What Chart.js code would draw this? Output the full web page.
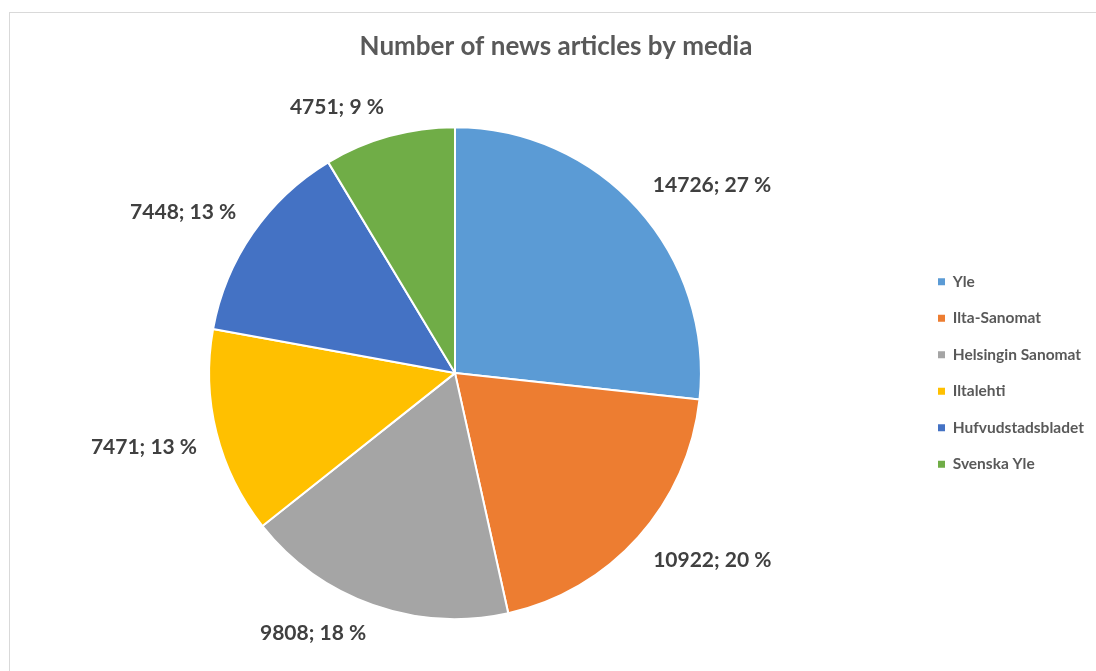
<!DOCTYPE html>
<html>
<head>
<meta charset="utf-8">
<script src="https://cdn.jsdelivr.net/npm/chart.js@4/dist/chart.umd.min.js"></script>
<style>
  html, body { margin: 0; padding: 0; background: #fff; }
  #wrap { position: relative; width: 1096px; height: 671px; overflow: hidden; }
  #frame { position: absolute; left: 9px; top: 12px; width: 1100px; height: 680px; border: 1px solid #d9d9d9; box-sizing: border-box; }
  #chart { position: absolute; left: 0; top: 0; }
</style>
</head>
<body>
<div id="wrap">
  <div id="frame"></div>
  <canvas id="chart" width="1096" height="671"></canvas>
</div>
<script>
const media = ["Yle", "Ilta-Sanomat", "Helsingin Sanomat", "Iltalehti", "Hufvudstadsbladet", "Svenska Yle"];
const articles = [14726, 10922, 9808, 7471, 7448, 4751];
// percentages as printed on the chart
const shares = [27, 20, 18, 13, 13, 9];
const colors = ["#5B9BD5", "#ED7D31", "#A5A5A5", "#FFC000", "#4472C4", "#70AD47"];
const chartTitle = "Number of news articles by media";

const FONT = "Lato, 'Open Sans', sans-serif";
const LEGEND_W = 202;      // legend box width, keeps pie centred left of it
const LEGEND_ITEM_X = 938; // where the legend markers start
const LEGEND_PAD = 21;
const LABEL_GAP = 20;

// fixes the legend box width, then slides its items to the right
const legendPlace = {
  id: "legendPlace",
  beforeLayout(chart) {
    const lg = chart.legend;
    if (lg && !lg._fixedFit) {
      const fit = lg.fit;
      lg.fit = function () {
        fit.call(this);
        this.width = LEGEND_W;
      };
      lg._fixedFit = true;
    }
  },
  afterLayout(chart) {
    const lg = chart.legend;
    const dx = LEGEND_ITEM_X - LEGEND_PAD - lg.left;
    lg.left += dx;
    lg.right += dx;
  }
};

// "value; pct %" labels just outside each slice
const outsideLabels = {
  id: "outsideLabels",
  afterDatasetsDraw(chart) {
    const ctx = chart.ctx;
    const meta = chart.getDatasetMeta(0);
    const data = chart.data.datasets[0].data;
    ctx.save();
    ctx.font = "bold 21px " + FONT;
    ctx.fillStyle = "#404040";
    ctx.textBaseline = "middle";
    meta.data.forEach((arc, i) => {
      const p = arc.getProps(["x", "y", "startAngle", "endAngle", "outerRadius"], true);
      const mid = (p.startAngle + p.endAngle) / 2;
      const dx = Math.cos(mid);
      const dy = Math.sin(mid);
      const r = p.outerRadius + LABEL_GAP;
      const px = p.x + dx * r;
      const py = p.y + dy * r;
      ctx.textAlign = dx >= 0 ? "left" : "right";
      ctx.fillText(data[i] + "; " + shares[i] + " %", px, py + (dy >= 0 ? 10 : -10));
    });
    ctx.restore();
  }
};

new Chart(document.getElementById("chart"), {
  type: "pie",
  data: {
    labels: media,
    datasets: [{
      data: articles,
      backgroundColor: colors,
      borderColor: "#ffffff",
      borderWidth: 2
    }]
  },
  options: {
    responsive: false,
    animation: false,
    layout: { padding: { left: 16, right: 0, top: 0, bottom: 51 } },
    plugins: {
      title: {
        display: true,
        text: chartTitle,
        color: "#595959",
        font: { family: FONT, size: 26, weight: "bold" },
        padding: { top: 31, bottom: 64 }
      },
      legend: {
        position: "right",
        fullSize: false,
        labels: {
          boxWidth: 7,
          boxHeight: 7,
          padding: LEGEND_PAD,
          color: "#595959",
          font: { family: FONT, size: 15.5, weight: "bold" },
          generateLabels(chart) {
            const items = Chart.overrides.pie.plugins.legend.labels.generateLabels(chart);
            items.forEach((it) => { it.lineWidth = 0; it.strokeStyle = it.fillStyle; });
            return items;
          }
        }
      },
      tooltip: { enabled: false }
    }
  },
  plugins: [legendPlace, outsideLabels]
});
</script>
</body>
</html>
